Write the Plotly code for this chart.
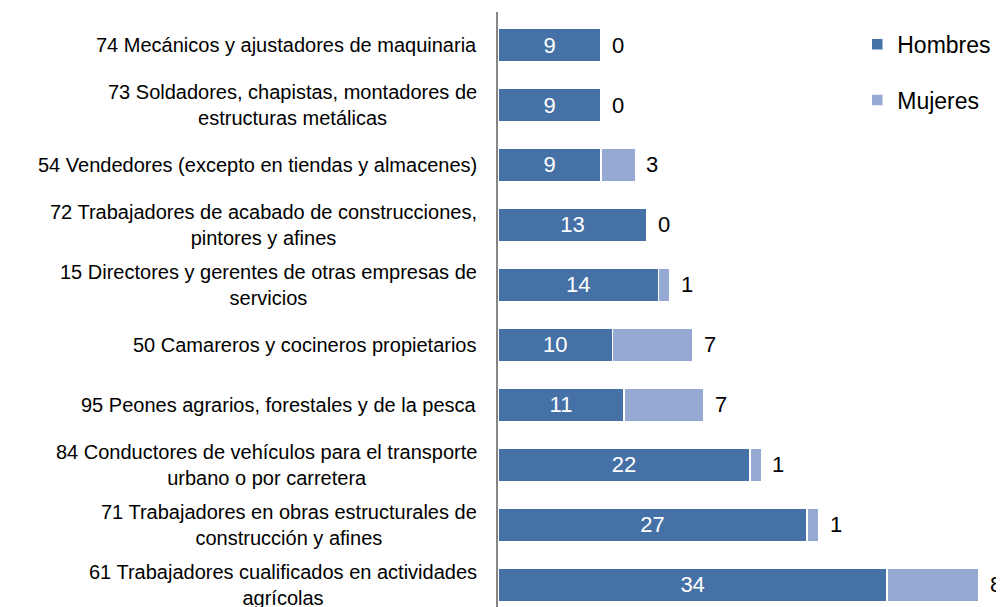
import plotly.graph_objects as go

# categories listed bottom to top (as drawn)
categorias = [
    "61 Trabajadores cualificados en actividades<br>agrícolas",
    "71 Trabajadores en obras estructurales de<br>construcción y afines",
    "84 Conductores de vehículos para el transporte<br>urbano o por carretera",
    "95 Peones agrarios, forestales y de la pesca",
    "50 Camareros y cocineros propietarios",
    "15 Directores y gerentes de otras empresas de<br>servicios",
    "72 Trabajadores de acabado de construcciones,<br>pintores y afines",
    "54 Vendedores (excepto en tiendas y almacenes)",
    "73 Soldadores, chapistas, montadores de<br>estructuras metálicas",
    "74 Mecánicos y ajustadores de maquinaria",
]
hombres = [34, 27, 22, 11, 10, 14, 13, 9, 9, 9]
mujeres = [8, 1, 1, 7, 7, 1, 0, 3, 0, 0]

col_h = "#4671A6"
col_m = "#95A9D3"
font = "Arial, Liberation Sans, sans-serif"
idx = list(range(len(categorias)))

fig = go.Figure()
fig.add_trace(go.Bar(
    y=idx, x=hombres, orientation="h", name="Hombres",
    marker=dict(color=col_h, line=dict(color="white", width=1.5)),
    text=hombres, textposition="inside", insidetextanchor="middle",
    textfont=dict(color="white", size=22, family=font),
    legendgroup="h",
))
fig.add_trace(go.Bar(
    y=idx, x=mujeres, orientation="h", name="Mujeres",
    marker=dict(color=col_m, line=dict(color="white", width=1.5)),
    legendgroup="m",
))

# Mujeres values, outside the end of each bar
for i, h, m in zip(idx, hombres, mujeres):
    fig.add_annotation(x=h + m, y=i, text=str(m), showarrow=False,
                       xanchor="left", yanchor="middle", xshift=9,
                       font=dict(size=22, color="black", family=font))

# category labels, centred multi-line like the original
for i, c in zip(idx, categorias):
    fig.add_annotation(x=0, xref="paper", y=i, yref="y", text=c,
                       xanchor="right", yanchor="middle", align="center",
                       xshift=-19, showarrow=False,
                       font=dict(size=20, color="black", family=font))

fig.update_layout(
    width=996, height=599,
    barmode="stack", bargap=0.44,
    plot_bgcolor="white", paper_bgcolor="white",
    margin=dict(l=490, r=0, t=4, b=0),
    font=dict(family=font, color="black"),
    xaxis=dict(range=[0, 44.2], showgrid=False, zeroline=False,
               showticklabels=False, showline=False),
    yaxis=dict(range=[-0.367, 9.55], showgrid=False, zeroline=False,
               showticklabels=False, showline=True, linecolor="#868686",
               linewidth=2, ticks=""),
    legend=dict(x=0.71, y=0.982, xanchor="left", yanchor="top",
                font=dict(size=23, family=font), traceorder="grouped",
                tracegroupgap=23, bgcolor="rgba(0,0,0,0)"),
)

fig.write_html("out.html")
